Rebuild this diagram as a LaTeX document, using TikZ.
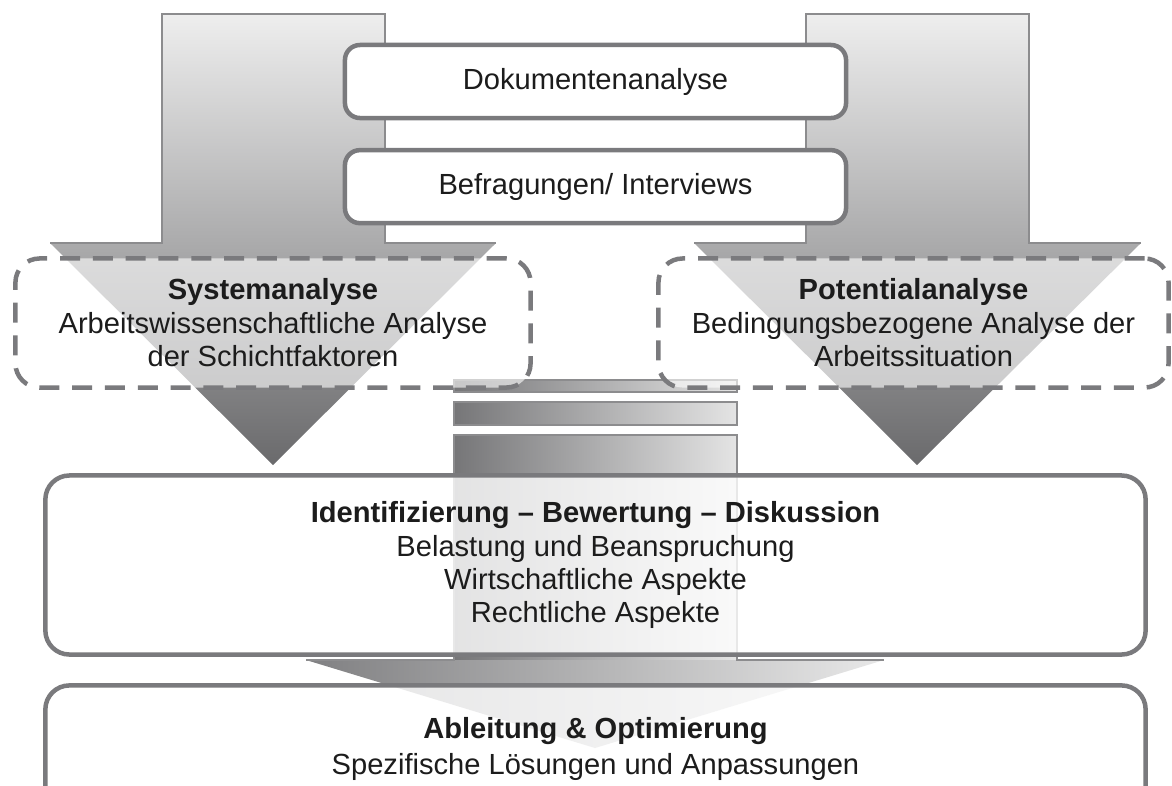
\documentclass[tikz,border=0pt]{standalone}
\usepackage{fontspec}
\setmainfont{Liberation Sans}
\usetikzlibrary{positioning}

\definecolor{framegray}{RGB}{122,122,125}
\definecolor{edgegray}{RGB}{140,140,142}
\definecolor{arrowtop}{RGB}{238,238,238}
\definecolor{arrowbot}{RGB}{106,106,108}
\definecolor{colleft}{RGB}{118,118,120}
\definecolor{colright}{RGB}{228,228,228}
\definecolor{headleft}{RGB}{128,128,130}
\definecolor{headright}{RGB}{232,232,232}
\definecolor{txt}{RGB}{28,28,28}

\begin{document}
\begin{tikzpicture}[
  x=0.025cm, y=-0.025cm,
  node distance=0.69cm,
  font=\fontsize{20.7}{22.8}\selectfont,
  text=txt,
  method/.style={draw=framegray,fill=white,line width=3.2pt,rounded corners=0.375cm,
    minimum width=12.525cm,minimum height=1.825cm},
  analysis/.style={draw=framegray,fill=white,fill opacity=0.6,text opacity=1,
    line width=3.2pt,dash pattern=on 0.5cm off 0.32cm,rounded corners=0.6cm,
    minimum height=3.225cm,align=center,font=\fontsize{20.7}{23.8}\selectfont},
  result/.style={draw=framegray,fill=white,fill opacity=0.8,text opacity=1,
    line width=3.2pt,rounded corners=0.6cm,minimum width=27.5cm,align=center},
  bigarrow/.style={top color=arrowtop,bottom color=arrowbot},
  column/.style={left color=colleft,right color=colright,draw=edgegray,line width=0.8pt},
  shaftline/.style={draw=edgegray,line width=0.8pt}
]
  \useasboundingbox (0,0) rectangle (1172,785);

  % side arrows
  \path[bigarrow] (162,14) -- (385,14) -- (385,243) -- (496,243) -- (273,465) -- (50,243) -- (162,243) -- cycle;
  \path[shaftline] (50,243) -- (162,243) -- (162,14) -- (385,14) -- (385,243) -- (496,243);
  \path[bigarrow] (806,14) -- (1029,14) -- (1029,243) -- (1141,243) -- (917,465) -- (694,243) -- (806,243) -- cycle;
  \path[shaftline] (694,243) -- (806,243) -- (806,14) -- (1029,14) -- (1029,243) -- (1141,243);

  % middle column
  \path[column] (454,380) rectangle (737,392);
  \path[column] (454,402) rectangle (737,425);
  \path[column,draw=none] (454,435) rectangle (737,661);
  \path[left color=headleft,right color=headright] (306,660) -- (884,660) -- (595,748) -- cycle;
  \path[shaftline] (306,660) -- (454,660) -- (454,435) -- (737,435) -- (737,660) -- (884,660);

  % methods
  \node[method] (docs) at (595.5,81.5) {Dokumentenanalyse};
  \node[method,below=of docs] (interviews) {Befragungen/ Interviews};

  % analyses
  \node[analysis,minimum width=12.875cm] (system) at (273,323)
    {\textbf{Systemanalyse}\\Arbeitswissenschaftliche Analyse\\der Schichtfaktoren};
  \node[analysis,minimum width=12.75cm] (potential) at (913.5,323)
    {\textbf{Potentialanalyse}\\Bedingungsbezogene Analyse der\\Arbeitssituation};

  % results
  \node[result,minimum height=4.475cm,font=\fontsize{20.7}{23.5}\selectfont] (assess) at (595.5,565)
    {\textbf{Identifizierung – Bewertung – Diskussion}\\Belastung und Beanspruchung\\Wirtschaftliche Aspekte\\Rechtliche Aspekte};
  \node[result,minimum height=3.19cm,below=0.66cm of assess] (derive)
    {\textbf{Ableitung \& Optimierung}\\[3pt]Spezifische Lösungen und Anpassungen};
\end{tikzpicture}
\end{document}
